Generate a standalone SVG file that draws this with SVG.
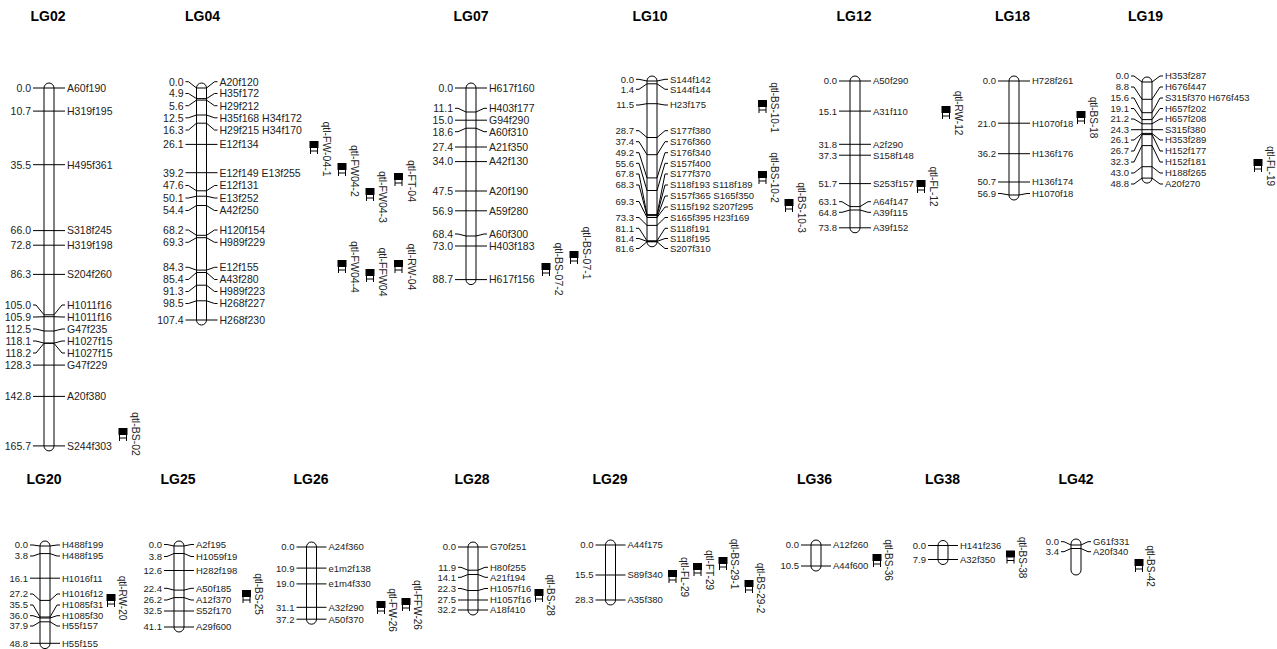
<svg xmlns="http://www.w3.org/2000/svg" width="1277" height="649" viewBox="0 0 1277 649">
<style>
text{font-family:"Liberation Sans",Arial,sans-serif;fill:#222}
.t{font-weight:bold;font-size:14px;fill:#000;text-anchor:middle}
.f1{font-size:10.5px}
.f2{font-size:9.5px}
.L{text-anchor:end}
.c{fill:#fff;stroke:#000;stroke-width:1}
.k{fill:none;stroke:#000;stroke-width:1}
.q{text-anchor:middle;font-size:10px}
.q1{text-anchor:middle;font-size:10.5px}
</style>
<defs>
<g id="qg"><rect x="-4.5" y="-7" width="9" height="7" fill="#000"/><path d="M-3.5 0V6M3.5 0V6M-3.5 3H3.5" stroke="#000" fill="none"/></g>
</defs>

<g id="LG02">
<text class="t" x="48" y="21">LG02</text>
<rect class="c" x="44" y="83" width="10" height="367.9" rx="5"/>
<g class="f1">
<text class="L" x="31" y="91.8">0.0</text><text x="67" y="91.8">A60f190</text>
<text class="L" x="31" y="114.9">10.7</text><text x="67" y="114.9">H319f195</text>
<text class="L" x="31" y="168.5">35.5</text><text x="67" y="168.5">H495f361</text>
<text class="L" x="31" y="234.4">66.0</text><text x="67" y="234.4">S318f245</text>
<text class="L" x="31" y="249">72.8</text><text x="67" y="249">H319f198</text>
<text class="L" x="31" y="278.2">86.3</text><text x="67" y="278.2">S204f260</text>
<text class="L" x="31" y="308.8">105.0</text><text x="67" y="308.8">H1011f16</text>
<text class="L" x="31" y="320.8">105.9</text><text x="67" y="320.8">H1011f16</text>
<text class="L" x="31" y="332.8">112.5</text><text x="67" y="332.8">G47f235</text>
<text class="L" x="31" y="344.8">118.1</text><text x="67" y="344.8">H1027f15</text>
<text class="L" x="31" y="356.8">118.2</text><text x="67" y="356.8">H1027f15</text>
<text class="L" x="31" y="368.9">128.3</text><text x="67" y="368.9">G47f229</text>
<text class="L" x="31" y="400.2">142.8</text><text x="67" y="400.2">A20f380</text>
<text class="L" x="31" y="449.7">165.7</text><text x="67" y="449.7">S244f303</text>
</g>
</g>

<g id="LG04">
<text class="t" x="202.5" y="21">LG04</text>
<rect class="c" x="196.5" y="83" width="10" height="242" rx="5"/>
<g class="f1">
<text class="L" x="183.5" y="85.5">0.0</text><text x="219.5" y="85.5">A20f120</text>
<text class="L" x="183.5" y="97.3">4.9</text><text x="219.5" y="97.3">H35f172</text>
<text class="L" x="183.5" y="109.5">5.6</text><text x="219.5" y="109.5">H29f212</text>
<text class="L" x="183.5" y="121.6">12.5</text><text x="219.5" y="121.6">H35f168 H34f172</text>
<text class="L" x="183.5" y="133.8">16.3</text><text x="219.5" y="133.8">H29f215 H34f170</text>
<text class="L" x="183.5" y="148.2">26.1</text><text x="219.5" y="148.2">E12f134</text>
<text class="L" x="183.5" y="176.5">39.2</text><text x="219.5" y="176.5">E12f149 E13f255</text>
<text class="L" x="183.5" y="189.3">47.6</text><text x="219.5" y="189.3">E12f131</text>
<text class="L" x="183.5" y="201.8">50.1</text><text x="219.5" y="201.8">E13f252</text>
<text class="L" x="183.5" y="214.3">54.4</text><text x="219.5" y="214.3">A42f250</text>
<text class="L" x="183.5" y="233.8">68.2</text><text x="219.5" y="233.8">H120f154</text>
<text class="L" x="183.5" y="246.1">69.3</text><text x="219.5" y="246.1">H989f229</text>
<text class="L" x="183.5" y="271.1">84.3</text><text x="219.5" y="271.1">E12f155</text>
<text class="L" x="183.5" y="283.3">85.4</text><text x="219.5" y="283.3">A43f280</text>
<text class="L" x="183.5" y="295.3">91.3</text><text x="219.5" y="295.3">H989f223</text>
<text class="L" x="183.5" y="307.3">98.5</text><text x="219.5" y="307.3">H268f227</text>
<text class="L" x="183.5" y="323.8">107.4</text><text x="219.5" y="323.8">H268f230</text>
</g>
</g>

<g id="LG07">
<text class="t" x="471" y="21">LG07</text>
<rect class="c" x="466" y="83" width="10" height="201.6" rx="5"/>
<g class="f1">
<text class="L" x="453" y="91.8">0.0</text><text x="489" y="91.8">H617f160</text>
<text class="L" x="453" y="112.1">11.1</text><text x="489" y="112.1">H403f177</text>
<text class="L" x="453" y="124">15.0</text><text x="489" y="124">G94f290</text>
<text class="L" x="453" y="135.5">18.6</text><text x="489" y="135.5">A60f310</text>
<text class="L" x="453" y="150.8">27.4</text><text x="489" y="150.8">A21f350</text>
<text class="L" x="453" y="165.4">34.0</text><text x="489" y="165.4">A42f130</text>
<text class="L" x="453" y="194.8">47.5</text><text x="489" y="194.8">A20f190</text>
<text class="L" x="453" y="214.6">56.9</text><text x="489" y="214.6">A59f280</text>
<text class="L" x="453" y="237.8">68.4</text><text x="489" y="237.8">A60f300</text>
<text class="L" x="453" y="249.8">73.0</text><text x="489" y="249.8">H403f183</text>
<text class="L" x="453" y="283.4">88.7</text><text x="489" y="283.4">H617f156</text>
</g>
</g>

<g id="LG10">
<text class="t" x="650" y="21">LG10</text>
<rect class="c" x="647" y="76" width="10" height="170.8" rx="5"/>
<g class="f2">
<text class="L" x="634" y="82.7">0.0</text><text x="670" y="82.7">S144f142</text>
<text class="L" x="634" y="92.7">1.4</text><text x="670" y="92.7">S144f144</text>
<text class="L" x="634" y="108.4">11.5</text><text x="670" y="108.4">H23f175</text>
<text class="L" x="634" y="134.1">28.7</text><text x="670" y="134.1">S177f380</text>
<text class="L" x="634" y="145.1">37.4</text><text x="670" y="145.1">S176f360</text>
<text class="L" x="634" y="156.1">49.2</text><text x="670" y="156.1">S176f340</text>
<text class="L" x="634" y="166.7">55.6</text><text x="670" y="166.7">S157f400</text>
<text class="L" x="634" y="177.4">67.8</text><text x="670" y="177.4">S177f370</text>
<text class="L" x="634" y="188.4">68.3</text><text x="670" y="188.4">S118f193 S118f189</text>
<text class="L" x="634" y="204.9">69.3</text><text x="670" y="199.4">S157f365 S165f350</text><text x="670" y="210.4">S115f192 S207f295</text>
<text class="L" x="634" y="220.9">73.3</text><text x="670" y="220.9">S165f395 H23f169</text>
<text class="L" x="634" y="231.7">81.1</text><text x="670" y="231.7">S118f191</text>
<text class="L" x="634" y="241.9">81.4</text><text x="670" y="241.9">S118f195</text>
<text class="L" x="634" y="251.9">81.6</text><text x="670" y="251.9">S207f310</text>
</g>
</g>

<g id="LG12">
<text class="t" x="854" y="21">LG12</text>
<rect class="c" x="850" y="76" width="10" height="156.8" rx="5"/>
<g class="f2">
<text class="L" x="837" y="84.4">0.0</text><text x="873" y="84.4">A50f290</text>
<text class="L" x="837" y="114.5">15.1</text><text x="873" y="114.5">A31f110</text>
<text class="L" x="837" y="147.7">31.8</text><text x="873" y="147.7">A2f290</text>
<text class="L" x="837" y="158.6">37.3</text><text x="873" y="158.6">S158f148</text>
<text class="L" x="837" y="187">51.7</text><text x="873" y="187">S253f157</text>
<text class="L" x="837" y="205.1">63.1</text><text x="873" y="205.1">A64f147</text>
<text class="L" x="837" y="215.7">64.8</text><text x="873" y="215.7">A39f115</text>
<text class="L" x="837" y="231.2">73.8</text><text x="873" y="231.2">A39f152</text>
</g>
</g>

<g id="LG18">
<text class="t" x="1012.5" y="21">LG18</text>
<rect class="c" x="1009" y="76" width="10" height="124" rx="5"/>
<g class="f2">
<text class="L" x="996" y="84.4">0.0</text><text x="1032" y="84.4">H728f261</text>
<text class="L" x="996" y="126.6">21.0</text><text x="1032" y="126.6">H1070f18</text>
<text class="L" x="996" y="157.1">36.2</text><text x="1032" y="157.1">H136f176</text>
<text class="L" x="996" y="185.4">50.7</text><text x="1032" y="185.4">H136f174</text>
<text class="L" x="996" y="196.9">56.9</text><text x="1032" y="196.9">H1070f18</text>
</g>
</g>

<g id="LG19">
<text class="t" x="1145.5" y="21">LG19</text>
<rect class="c" x="1142" y="77" width="10" height="106.1" rx="5"/>
<g class="f2">
<text class="L" x="1129" y="79.4">0.0</text><text x="1165" y="79.4">H353f287</text>
<text class="L" x="1129" y="90.4">8.8</text><text x="1165" y="90.4">H676f447</text>
<text class="L" x="1129" y="101.4">15.6</text><text x="1165" y="101.4">S315f370 H676f453</text>
<text class="L" x="1129" y="111.9">19.1</text><text x="1165" y="111.9">H657f202</text>
<text class="L" x="1129" y="122.4">21.2</text><text x="1165" y="122.4">H657f208</text>
<text class="L" x="1129" y="133.1">24.3</text><text x="1165" y="133.1">S315f380</text>
<text class="L" x="1129" y="143.4">26.1</text><text x="1165" y="143.4">H353f289</text>
<text class="L" x="1129" y="154.4">26.7</text><text x="1165" y="154.4">H152f177</text>
<text class="L" x="1129" y="165.4">32.3</text><text x="1165" y="165.4">H152f181</text>
<text class="L" x="1129" y="176.4">43.0</text><text x="1165" y="176.4">H188f265</text>
<text class="L" x="1129" y="187.4">48.8</text><text x="1165" y="187.4">A20f270</text>
</g>
</g>

<g id="LG20">
<text class="t" x="44" y="484">LG20</text>
<rect class="c" x="40" y="541" width="10" height="107.6" rx="5"/>
<g class="f2">
<text class="L" x="28" y="548.4">0.0</text><text x="62" y="548.4">H488f199</text>
<text class="L" x="28" y="559.4">3.8</text><text x="62" y="559.4">H488f195</text>
<text class="L" x="28" y="581.6">16.1</text><text x="62" y="581.6">H1016f11</text>
<text class="L" x="28" y="597.4">27.2</text><text x="62" y="597.4">H1016f12</text>
<text class="L" x="28" y="608.4">35.5</text><text x="62" y="608.4">H1085f31</text>
<text class="L" x="28" y="619.1">36.0</text><text x="62" y="619.1">H1085f30</text>
<text class="L" x="28" y="629.4">37.9</text><text x="62" y="629.4">H55f157</text>
<text class="L" x="28" y="646.7">48.8</text><text x="62" y="646.7">H55f155</text>
</g>
</g>

<g id="LG25">
<text class="t" x="178" y="484">LG25</text>
<rect class="c" x="174" y="541" width="10" height="91" rx="5"/>
<g class="f2">
<text class="L" x="162" y="547.9">0.0</text><text x="196" y="547.9">A2f195</text>
<text class="L" x="162" y="559.9">3.8</text><text x="196" y="559.9">H1059f19</text>
<text class="L" x="162" y="573.9">12.6</text><text x="196" y="573.9">H282f198</text>
<text class="L" x="162" y="591.7">22.4</text><text x="196" y="591.7">A50f185</text>
<text class="L" x="162" y="603.4">26.2</text><text x="196" y="603.4">A12f370</text>
<text class="L" x="162" y="614.4">32.5</text><text x="196" y="614.4">S52f170</text>
<text class="L" x="162" y="630.4">41.1</text><text x="196" y="630.4">A29f600</text>
</g>
</g>

<g id="LG26">
<text class="t" x="311" y="484">LG26</text>
<rect class="c" x="306.5" y="542" width="10" height="82.2" rx="5"/>
<g class="f2">
<text class="L" x="294.5" y="550.4">0.0</text><text x="328.5" y="550.4">A24f360</text>
<text class="L" x="294.5" y="571.5">10.9</text><text x="328.5" y="571.5">e1m2f138</text>
<text class="L" x="294.5" y="587.3">19.0</text><text x="328.5" y="587.3">e1m4f330</text>
<text class="L" x="294.5" y="610.7">31.1</text><text x="328.5" y="610.7">A32f290</text>
<text class="L" x="294.5" y="622.6">37.2</text><text x="328.5" y="622.6">A50f370</text>
</g>
</g>

<g id="LG28">
<text class="t" x="472" y="484">LG28</text>
<rect class="c" x="468" y="542" width="10" height="73" rx="5"/>
<g class="f2">
<text class="L" x="456" y="550.4">0.0</text><text x="490" y="550.4">G70f251</text>
<text class="L" x="456" y="570.7">11.9</text><text x="490" y="570.7">H80f255</text>
<text class="L" x="456" y="580.7">14.1</text><text x="490" y="580.7">A21f194</text>
<text class="L" x="456" y="591.9">22.3</text><text x="490" y="591.9">H1057f16</text>
<text class="L" x="456" y="603.4">27.5</text><text x="490" y="603.4">H1057f16</text>
<text class="L" x="456" y="613.4">32.2</text><text x="490" y="613.4">A18f410</text>
</g>
</g>

<g id="LG29">
<text class="t" x="610" y="484">LG29</text>
<rect class="c" x="605.5" y="540" width="10" height="65" rx="5"/>
<g class="f2">
<text class="L" x="593.5" y="548.4">0.0</text><text x="627.5" y="548.4">A44f175</text>
<text class="L" x="593.5" y="578.4">15.5</text><text x="627.5" y="578.4">S89f340</text>
<text class="L" x="593.5" y="603.4">28.3</text><text x="627.5" y="603.4">A35f380</text>
</g>
</g>

<g id="LG36">
<text class="t" x="814.5" y="484">LG36</text>
<rect class="c" x="811" y="540" width="10" height="31" rx="5"/>
<g class="f2">
<text class="L" x="799" y="548.4">0.0</text><text x="833" y="548.4">A12f260</text>
<text class="L" x="799" y="569.4">10.5</text><text x="833" y="569.4">A44f600</text>
</g>
</g>

<g id="LG38">
<text class="t" x="942.5" y="484">LG38</text>
<rect class="c" x="938" y="540.5" width="10" height="24" rx="5"/>
<g class="f2">
<text class="L" x="926" y="548.9">0.0</text><text x="960" y="548.9">H141f236</text>
<text class="L" x="926" y="562.9">7.9</text><text x="960" y="562.9">A32f350</text>
</g>
</g>

<g id="LG42">
<text class="t" x="1076" y="484">LG42</text>
<rect class="c" x="1071" y="539" width="10" height="36" rx="5"/>
<g class="f2">
<text class="L" x="1059" y="545.1">0.0</text><text x="1093" y="545.1">G61f331</text>
<text class="L" x="1059" y="555.1">3.4</text><text x="1093" y="555.1">A20f340</text>
</g>
</g>

<g id="connectors" class="k">
<path d="M33 88H65M33 111.1H65M33 164.7H65M33 230.6H65M33 245.2H65M33 274.4H65M33 305H36L44 314.8H54L62 305H65M33 317H36L44 316.7H54L62 317H65M33 329H36L44 331H54L62 329H65M33 341H36L44 343.1H54L62 341H65M33 353H36L44 343.3H54L62 353H65M33 365.1H65M33 396.4H65M33 445.9H65"/>
<path d="M185.5 81.7H188.5L196.5 88H206.5L214.5 81.7H217.5M185.5 93.5H188.5L196.5 98.6H206.5L214.5 93.5H217.5M185.5 105.7H188.5L196.5 100.1H206.5L214.5 105.7H217.5M185.5 117.8H188.5L196.5 115H206.5L214.5 117.8H217.5M185.5 130H188.5L196.5 123.2H206.5L214.5 130H217.5M185.5 144.4H217.5M185.5 172.7H217.5M185.5 185.5H188.5L196.5 190.8H206.5L214.5 185.5H217.5M185.5 198H188.5L196.5 196.2H206.5L214.5 198H217.5M185.5 210.5H188.5L196.5 205.5H206.5L214.5 210.5H217.5M185.5 230H188.5L196.5 235.3H206.5L214.5 230H217.5M185.5 242.3H188.5L196.5 237.7H206.5L214.5 242.3H217.5M185.5 267.3H188.5L196.5 270.1H206.5L214.5 267.3H217.5M185.5 279.5H188.5L196.5 272.5H206.5L214.5 279.5H217.5M185.5 291.5H188.5L196.5 285.2H206.5L214.5 291.5H217.5M185.5 303.5H188.5L196.5 300.8H206.5L214.5 303.5H217.5M185.5 320H217.5"/>
<path d="M455 88H487M455 108.3H458L466 112H476L484 108.3H487M455 120.2H487M455 131.7H458L466 128.2H476L484 131.7H487M455 147H487M455 161.6H487M455 191H487M455 210.8H487M455 234H458L466 236H476L484 234H487M455 246H487M455 279.6H487"/>
<path d="M636 79.3H639L647 81H657L665 79.3H668M636 89.3H639L647 83.8H657L665 89.3H668M636 105H639L647 103.7H657L665 105H668M636 130.7H639L647 137.5H657L665 130.7H668M636 141.7H639L647 154.7H657L665 141.7H668M636 152.7H639L647 177.9H657L665 152.7H668M636 163.3H639L647 190.5H657L665 163.3H668M636 174H639L647 214.6H657L665 174H668M636 185H639L647 215.6H657L665 185H668M636 201.5H639L647 217.5H657L665 196H668M657 217.5L665 207H668M636 217.5H639L647 225.4H657L665 217.5H668M636 228.3H639L647 240.8H657L665 228.3H668M636 238.5H639L647 241.4H657L665 238.5H668M636 248.5H639L647 241.8H657L665 248.5H668"/>
<path d="M839 81H871M839 111.1H871M839 144.3H871M839 155.2H871M839 183.6H871M839 201.7H842L850 206.6H860L868 201.7H871M839 212.3H842L850 210H860L868 212.3H871M839 227.8H871"/>
<path d="M998 81H1030M998 123.2H1030M998 153.7H1030M998 182H1030M998 193.5H1001L1009 195H1019L1027 193.5H1030"/>
<path d="M1131 76H1134L1142 82H1152L1160 76H1163M1131 87H1134L1142 99.3H1152L1160 87H1163M1131 98H1134L1142 112.7H1152L1160 98H1163M1131 108.5H1134L1142 119.6H1152L1160 108.5H1163M1131 119H1134L1142 123.8H1152L1160 119H1163M1131 129.7H1163M1131 140H1134L1142 133.4H1152L1160 140H1163M1131 151H1134L1142 134.6H1152L1160 151H1163M1131 162H1134L1142 145.6H1152L1160 162H1163M1131 173H1134L1142 166.7H1152L1160 173H1163M1131 184H1134L1142 178.1H1152L1160 184H1163"/>
<path d="M30 545H33L40 546H50L57 545H60M30 556H33L40 553.6H50L57 556H60M30 578.2H60M30 594H33L40 600.4H50L57 594H60M30 605H33L40 617H50L57 605H60M30 615.7H33L40 618H50L57 615.7H60M30 626H33L40 621.8H50L57 626H60M30 643.3H60"/>
<path d="M164 544.5H167L174 546H184L191 544.5H194M164 556.5H167L174 553.5H184L191 556.5H194M164 570.5H194M164 588.3H167L174 590.1H184L191 588.3H194M164 600H167L174 597.6H184L191 600H194M164 611H194M164 627H194"/>
<path d="M296.5 547H326.5M296.5 568.1H326.5M296.5 583.9H326.5M296.5 607.3H326.5M296.5 619.2H326.5"/>
<path d="M458 547H488M458 567.3H461L468 570.2H478L485 567.3H488M458 577.3H461L468 574.5H478L485 577.3H488M458 588.5H461L468 590.5H478L485 588.5H488M458 600H488M458 610H488"/>
<path d="M595.5 545H625.5M595.5 575H625.5M595.5 600H625.5"/>
<path d="M801 545H831M801 566H831"/>
<path d="M928 545.5H958M928 559.5H958"/>
<path d="M1061 541.7H1064L1071 545H1081L1088 541.7H1091M1061 551.7H1064L1071 548.5H1081L1088 551.7H1091"/>
</g>

<g id="qtls">
<use href="#qg" x="123" y="435"/><text class="q1" transform="translate(132,434) rotate(90)">qtl-BS-02</text>
<use href="#qg" x="314" y="148"/><text class="q1" transform="translate(323,149) rotate(90)">qtl-FW-04-1</text>
<use href="#qg" x="342" y="170"/><text class="q1" transform="translate(351,171) rotate(90)">qtl-FW04-2</text>
<use href="#qg" x="370" y="195"/><text class="q1" transform="translate(379,197) rotate(90)">qtl-FW04-3</text>
<use href="#qg" x="398.5" y="180"/><text class="q1" transform="translate(407.5,181) rotate(90)">qtl-FT-04</text>
<use href="#qg" x="342" y="267"/><text class="q1" transform="translate(351,267) rotate(90)">qtl-FW04-4</text>
<use href="#qg" x="370" y="276"/><text class="q1" transform="translate(379,272) rotate(90)">qtl-FFW04</text>
<use href="#qg" x="398.5" y="267"/><text class="q1" transform="translate(407.5,267) rotate(90)">qtl-RW-04</text>
<use href="#qg" x="574" y="258"/><text class="q1" transform="translate(583,253) rotate(90)">qtl-BS-07-1</text>
<use href="#qg" x="546" y="270"/><text class="q1" transform="translate(555,269) rotate(90)">qtl-BS-07-2</text>
<use href="#qg" x="762.5" y="107"/><text class="q" transform="translate(771,107.5) rotate(90)">qtl-BS-10-1</text>
<use href="#qg" x="762.5" y="178"/><text class="q" transform="translate(771,177.5) rotate(90)">qtl-BS-10-2</text>
<use href="#qg" x="789" y="206"/><text class="q" transform="translate(797.5,207.5) rotate(90)">qtl-BS-10-3</text>
<use href="#qg" x="946" y="113"/><text class="q" transform="translate(954.5,113) rotate(90)">qtl-RW-12</text>
<use href="#qg" x="921" y="187"/><text class="q" transform="translate(929.5,186.5) rotate(90)">qtl-FL-12</text>
<use href="#qg" x="1081" y="118"/><text class="q" transform="translate(1089.5,117.5) rotate(90)">qtl-BS-18</text>
<use href="#qg" x="1258" y="166"/><text class="q" transform="translate(1266.5,166) rotate(90)">qtl-FL-19</text>
<use href="#qg" x="111" y="601"/><text class="q" transform="translate(119,598) rotate(90)">qtl-RW-20</text>
<use href="#qg" x="246.5" y="597"/><text class="q" transform="translate(254.5,594) rotate(90)">qtl-BS-25</text>
<use href="#qg" x="381" y="608"/><text class="q" transform="translate(389,610) rotate(90)">qtl-FW-26</text>
<use href="#qg" x="406" y="605"/><text class="q" transform="translate(414,605) rotate(90)">qtl-FFW-26</text>
<use href="#qg" x="539" y="596"/><text class="q" transform="translate(547,595) rotate(90)">qtl-BS-28</text>
<use href="#qg" x="672.5" y="577"/><text class="q" transform="translate(680.5,577) rotate(90)">qtl-FL-29</text>
<use href="#qg" x="697.5" y="570"/><text class="q" transform="translate(705.5,570) rotate(90)">qtl-FT-29</text>
<use href="#qg" x="723" y="564"/><text class="q" transform="translate(731,564) rotate(90)">qtl-BS-29-1</text>
<use href="#qg" x="749" y="587"/><text class="q" transform="translate(757,588) rotate(90)">qtl-BS-29-2</text>
<use href="#qg" x="877" y="561"/><text class="q" transform="translate(885,560) rotate(90)">qtl-BS-36</text>
<use href="#qg" x="1010.5" y="557.5"/><text class="q" transform="translate(1018.5,557.5) rotate(90)">qtl-BS-38</text>
<use href="#qg" x="1139" y="566"/><text class="q" transform="translate(1147,566) rotate(90)">qtl-BS-42</text>
</g>
</svg>
